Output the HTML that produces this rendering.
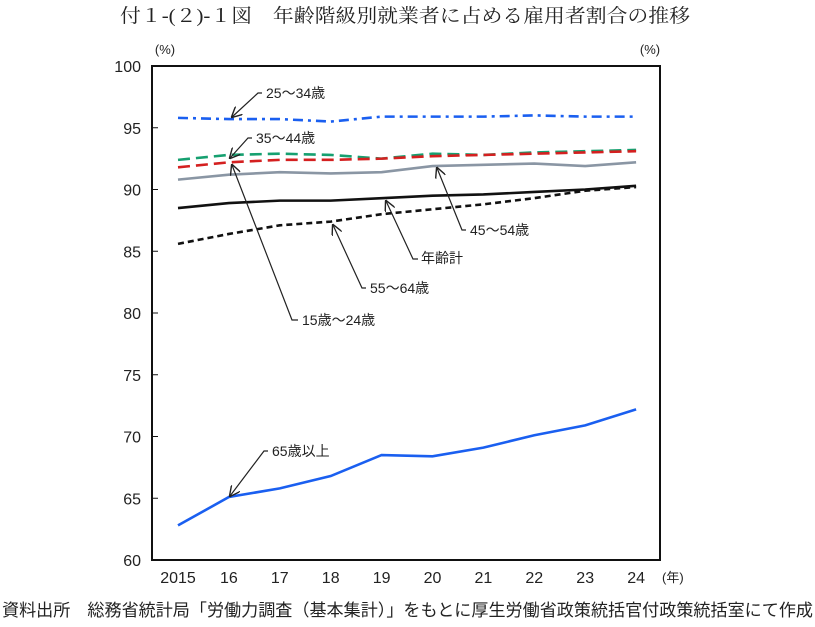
<!DOCTYPE html>
<html><head><meta charset="utf-8">
<style>
body{margin:0;background:#fff;width:815px;height:622px;overflow:hidden;font-family:"Liberation Sans","Noto Sans CJK JP",sans-serif;}
svg text{font-family:"Liberation Sans","Noto Sans CJK JP",sans-serif;fill:#222;}
</style></head><body>
<svg width="815" height="622">
<defs><marker id="ah" viewBox="0 0 10 10" refX="9" refY="5" markerWidth="9" markerHeight="9" orient="auto-start-reverse"><path d="M0,0 L10,5 L0,10" fill="none" stroke="#222" stroke-width="1.3"/></marker></defs>
<text x="120" y="22" font-size="19" textLength="570" lengthAdjust="spacingAndGlyphs" style="font-family:'Liberation Serif','Noto Serif CJK SC',serif">付１-(２)-１図　年齢階級別就業者に占める雇用者割合の推移</text>
<text x="2" y="616" font-size="17" textLength="811" lengthAdjust="spacingAndGlyphs">資料出所　総務省統計局「労働力調査（基本集計）」をもとに厚生労働省政策統括官付政策統括室にて作成</text>
<text x="165" y="54" font-size="13" text-anchor="middle">(%)</text>
<text x="650" y="54" font-size="13" text-anchor="middle">(%)</text>
<text x="662" y="582" font-size="13">(年)</text>
<rect x="152" y="66" width="508" height="494" fill="none" stroke="#111" stroke-width="2"/>
<g id="axes"></g>
<g id="series"></g>
<g id="ann" stroke="#222" stroke-width="1.2" fill="none">
<polyline points="262,93 258,93 232,117" marker-end="url(#ah)"/>
<polyline points="252,138 248,138 230,158" marker-end="url(#ah)"/>
<polyline points="298,320 292,320 232,165" marker-end="url(#ah)"/>
<polyline points="466,230 462,230 437,168" marker-end="url(#ah)"/>
<polyline points="418,259 413,259 386,201" marker-end="url(#ah)"/>
<polyline points="366,288 362,288 333,225" marker-end="url(#ah)"/>
<polyline points="268,451 264,451 230,496" marker-end="url(#ah)"/>
</g>
<g font-size="14">
<text x="266" y="98">25～34歳</text>
<text x="256" y="143">35～44歳</text>
<text x="302" y="325">15歳～24歳</text>
<text x="470" y="235">45～54歳</text>
<text x="421" y="263">年齢計</text>
<text x="370" y="293">55～64歳</text>
<text x="272" y="456">65歳以上</text>
</g>
</svg>
<script>
const years=["2015","16","17","18","19","20","21","22","23","24"];
const yTicks=[60,65,70,75,80,85,90,95,100];
const s2534=[95.8,95.7,95.7,95.5,95.9,95.9,95.9,96.0,95.9,95.9];
const s3544=[92.4,92.8,92.9,92.8,92.5,92.9,92.8,93.0,93.1,93.2];
const s4554=[91.8,92.2,92.4,92.4,92.5,92.7,92.8,92.9,93.0,93.1];
const s1524=[90.8,91.2,91.4,91.3,91.4,91.9,92.0,92.1,91.9,92.2];
const sTotal=[88.5,88.9,89.1,89.1,89.3,89.5,89.6,89.8,90.0,90.3];
const s5564=[85.6,86.4,87.1,87.4,88.0,88.4,88.8,89.3,89.9,90.2];
const s65=[62.8,65.1,65.8,66.8,68.5,68.4,69.1,70.1,70.9,72.2];
const NS="http://www.w3.org/2000/svg";
const xS=i=>178+i*50.9;
const yS=v=>560-(v-60)*12.35;
const ax=document.getElementById('axes'),sg=document.getElementById('series');
function mk(tag,attrs,parent,txt){const e=document.createElementNS(NS,tag);for(const k in attrs)e.setAttribute(k,attrs[k]);if(txt!==undefined)e.textContent=txt;parent.appendChild(e);return e;}
yTicks.forEach(v=>{
 const t=mk('text',{x:141,y:yS(v)+6,'font-size':16,'text-anchor':'end'},ax,String(v));
 
 
 const l=mk('line',{x1:152,x2:158,y1:yS(v),y2:yS(v),stroke:'#111'},ax);
 
 
});
years.forEach((y,i)=>{
 const t=mk('text',{x:xS(i),y:583,'font-size':16,'text-anchor':'middle'},ax,y);
 
 
});
const defs=[[s2534,'#1a5ff0','10,5,3,5','series-25-34'],[s3544,'#16a070','12,6','series-35-44'],[s4554,'#d42020','12,6','series-45-54'],[s1524,'#8a96a4','','series-15-24'],[sTotal,'#111','','series-total'],[s5564,'#111','6,4','series-55-64'],[s65,'#1a5ff0','','series-65plus']];
defs.forEach(([d,c,da,n])=>{
 const p=mk('polyline',{points:d.map((v,i)=>xS(i)+','+yS(v)).join(' '),fill:'none',stroke:c,'stroke-width':2.6,'stroke-dasharray':da},sg);
 
 
});
</script>
</body></html>
